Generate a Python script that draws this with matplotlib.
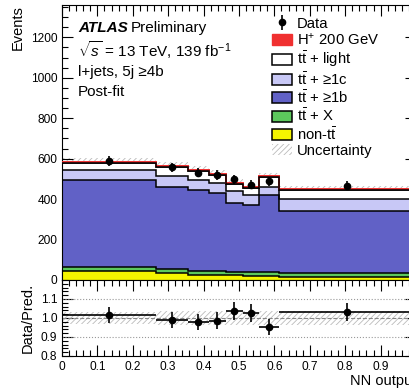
import matplotlib
matplotlib.use('Agg')
import matplotlib.pyplot as plt
from matplotlib.patches import Patch
from matplotlib.ticker import MultipleLocator, FixedLocator
import numpy as np

plt.rcParams['font.family'] = ['Liberation Sans', 'DejaVu Sans']
plt.rcParams['mathtext.fontset'] = 'custom'
plt.rcParams['mathtext.rm'] = 'Liberation Sans'
plt.rcParams['mathtext.it'] = 'Liberation Sans:italic'
plt.rcParams['hatch.linewidth'] = 0.6

# bin edges of the NN output
edges = np.array([0.0, 0.266, 0.356, 0.415, 0.463, 0.511, 0.556, 0.613, 1.0])

# stacked yields per bin (events)
non_tt = np.array([44, 33, 27, 25, 24, 22, 22, 16])
tt_x = np.array([22, 21, 19, 18, 17, 17, 16, 17])
tt_1b = np.array([429, 408, 397, 386, 341, 333, 383, 308])
tt_1c = np.array([51, 51, 52, 51, 57, 49, 41, 57])
tt_light = np.array([31, 44, 43, 41, 36, 33, 46, 48])
hplus = np.array([5, 5, 5, 5, 5, 5, 5, 5])

data = np.array([590, 557, 531, 519, 497, 472, 488, 466])
rel_unc = np.array([0.034, 0.036, 0.035, 0.036, 0.037, 0.037, 0.036, 0.035])

fig = plt.figure(figsize=(4.10, 3.88), dpi=100)
ax = fig.add_axes([0.1512, 0.2784, 0.8634, 0.7088])
rax = fig.add_axes([0.1512, 0.0825, 0.8634, 0.1959], sharex=ax)

# stack
comps = [(non_tt, '#f5f500', 'non-t$\\bar{\\mathrm{t}}$'),
         (tt_x, '#5cc85c', 't$\\bar{\\mathrm{t}}$ + X'),
         (tt_1b, '#6161c6', 't$\\bar{\\mathrm{t}}$ + ≥1b'),
         (tt_1c, '#c8c8f6', 't$\\bar{\\mathrm{t}}$ + ≥1c'),
         (tt_light, 'white', 't$\\bar{\\mathrm{t}}$ + light')]
bottom = np.zeros(len(data))
for vals, col, lab in comps:
    top = bottom + vals
    ax.stairs(top, edges, baseline=bottom, fill=True, color=col, zorder=2)
    ax.stairs(top, edges, baseline=None, color='black', lw=1.1, zorder=3)
    bottom = top
bkg = bottom.copy()
total = bkg + hplus
ax.stairs(total, edges, baseline=bkg, fill=True, color='#f03030', zorder=2)
ax.stairs(total, edges, baseline=None, color='#f03030', lw=1.4, zorder=3)
ax.stairs(bkg, edges, baseline=None, color='black', lw=1.1, zorder=3)

# uncertainty band
ax.stairs(total * (1 + rel_unc), edges, baseline=total * (1 - rel_unc), fill=True,
          facecolor='none', edgecolor='#bbbbbb', hatch='//////', lw=0, zorder=1)

centres = 0.5 * (edges[1:] + edges[:-1])
dat = ax.errorbar(centres, data, yerr=np.sqrt(data), fmt='o', color='black', ms=4.5,
                  elinewidth=1.2, capsize=0, zorder=5)

ax.set_xlim(0, 1)
ax.set_ylim(0, 1360)
ax.yaxis.set_major_locator(MultipleLocator(200))
ax.yaxis.set_minor_locator(MultipleLocator(50))
ax.xaxis.set_major_locator(MultipleLocator(0.1))
ax.xaxis.set_minor_locator(MultipleLocator(0.02))
for a in (ax, rax):
    a.tick_params(which='both', direction='in', top=True, right=True, labelsize=8.6)
    a.tick_params(which='major', length=8, width=0.8)
    a.tick_params(which='minor', length=4, width=0.8)
ax.tick_params(labelbottom=False)
ax.set_ylabel('Events', fontsize=10.5, loc='top')

# labels
ax.text(0.045, 0.916, 'ATLAS', transform=ax.transAxes, fontsize=11,
        fontweight='bold', style='italic', va='center')
ax.text(0.195, 0.916, 'Preliminary', transform=ax.transAxes, fontsize=11, va='center')
ax.text(0.045, 0.836, '$\\sqrt{s}$ = 13 TeV, 139 fb$^{-1}$', transform=ax.transAxes,
        fontsize=11, va='center')
ax.text(0.045, 0.756, 'l+jets, 5j ≥4b', transform=ax.transAxes, fontsize=11, va='center')
ax.text(0.045, 0.684, 'Post-fit', transform=ax.transAxes, fontsize=11, va='center')

# legend
handles = [dat, Patch(facecolor='#f03030', edgecolor='#f03030')]
labels = ['Data', 'H$^{+}$ 200 GeV']
for vals, col, lab in comps[::-1]:
    handles.append(Patch(facecolor=col, edgecolor='black', lw=1.1))
    labels.append(lab)
handles.append(Patch(facecolor='none', edgecolor='#bbbbbb', hatch='//////', lw=0))
labels.append('Uncertainty')
ax.legend(handles, labels, loc='upper left', bbox_to_anchor=(0.592, 0.958),
          frameon=False, fontsize=10.7, handlelength=1.4, handleheight=0.75,
          handletextpad=0.3, labelspacing=0.1, borderpad=0, borderaxespad=0)

# ratio panel
ratio = data / total
rerr = np.sqrt(data) / total
rax.stairs(1 + rel_unc, edges, baseline=1 - rel_unc, fill=True, facecolor='none',
           edgecolor='#bbbbbb', hatch='//////', lw=0, zorder=1)
rax.axhline(1.0, color='#888888', ls='--', lw=0.8, zorder=2)
for yy in (0.9, 1.1):
    rax.axhline(yy, color='#999999', ls=':', lw=0.8, zorder=2)
rax.errorbar(centres, ratio, yerr=rerr, xerr=0.5 * np.diff(edges), fmt='o',
             color='black', ms=4.5, elinewidth=1.2, capsize=0, zorder=5)
rax.set_ylim(0.8, 1.2)
rax.yaxis.set_major_locator(FixedLocator([0.8, 0.9, 1.0, 1.1]))
rax.yaxis.set_minor_locator(MultipleLocator(0.02))
rax.yaxis.set_major_formatter(plt.FormatStrFormatter('%.1f'))
rax.xaxis.set_major_formatter(plt.FuncFormatter(lambda v, p: '0' if abs(v) < 1e-9 else '%g' % v))
rax.set_ylabel('Data/Pred.', fontsize=10.5)
rax.set_xlabel('NN output', fontsize=10.5, loc='right', labelpad=1)
fig.align_ylabels([ax, rax])

fig.savefig('out.png', dpi=100)
